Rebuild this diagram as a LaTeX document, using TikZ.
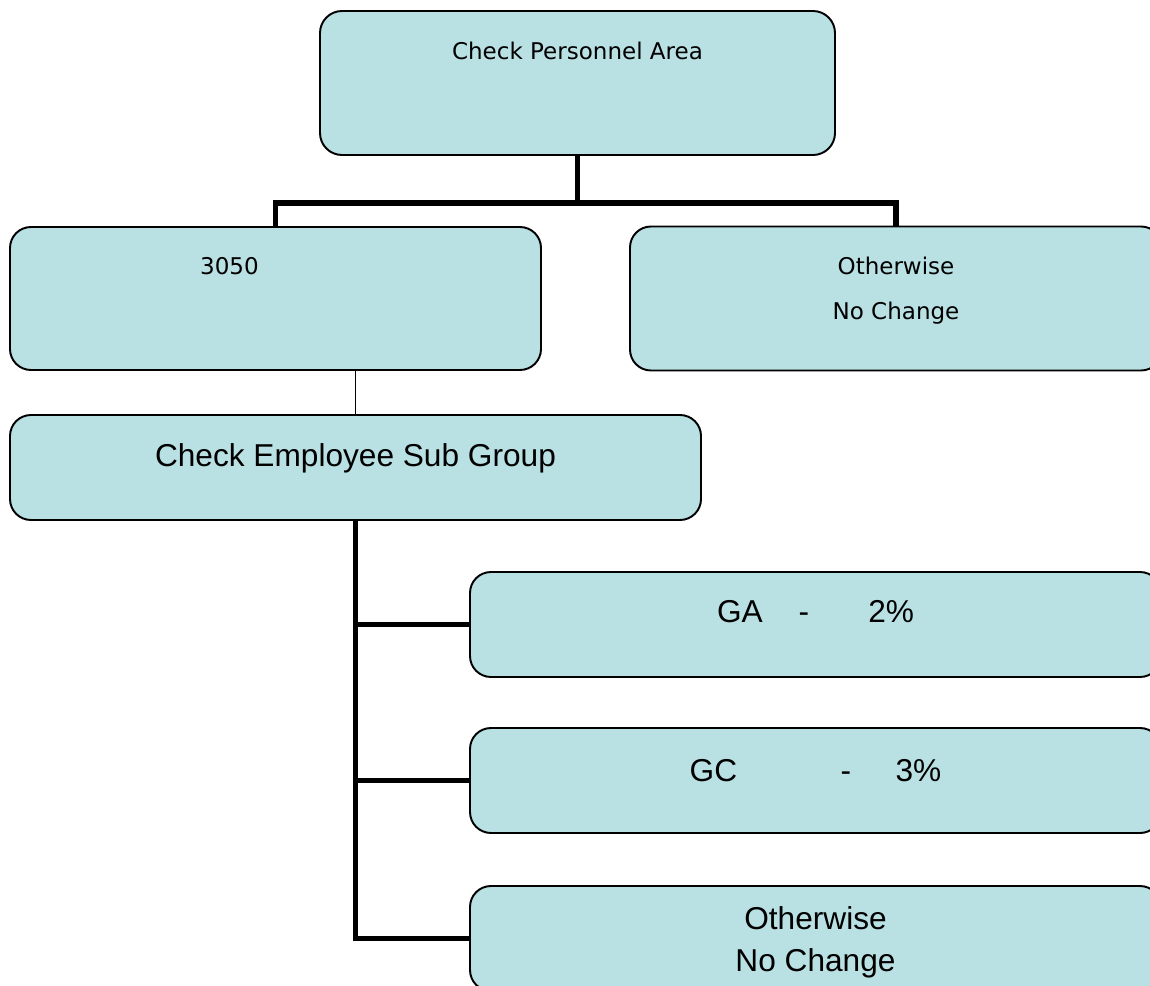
\documentclass[tikz,border=0pt]{standalone}
\usepackage{fontspec}
\usepackage{tikz}
\newfontfamily\vsans{DejaVu Sans}
\newfontfamily\asans{Liberation Sans}
\definecolor{boxfill}{RGB}{185,224,227}
\usetikzlibrary{positioning}

\begin{document}
\begin{tikzpicture}[node distance=3cm,on grid,
    box/.style={draw=black, line width=1.1pt, fill=boxfill, rounded corners=0.42cm,
                inner sep=0pt, minimum width=13.82cm, minimum height=2.1cm},
    small/.style={font=\vsans\fontsize{13.1}{16}\selectfont, anchor=base, inner sep=0pt},
    big/.style={font=\asans\fontsize{18}{22}\selectfont, anchor=base, inner sep=0pt},
    trunk/.style={line width=3.4pt, line join=miter},
    twig/.style={line width=0.6pt}]
    \useasboundingbox (0,0) rectangle (23,-19.72);
    \clip (0,0) rectangle (23,-19.72);

    \node[box, minimum width=10.3cm, minimum height=2.88cm, rounded corners=0.44cm,
          label={[small, yshift=-0.98cm]north:Check Personnel Area}] (top) at (11.55,-1.66) {};
    \node[box, minimum width=10.62cm, minimum height=2.86cm,
          label={[small, xshift=-0.92cm, yshift=-0.97cm]north:3050}] (pa) [below left=4.31cm and 6.04cm of top] {};
    \node[box, minimum width=10.64cm, minimum height=2.88cm,
          label={[small, yshift=-0.98cm]north:Otherwise},
          label={[small, yshift=-1.88cm]north:No Change}] (other) [below right=4.31cm and 6.37cm of top] {};
    \node[box, label={[big, yshift=-1.04cm]north:Check Employee Sub Group}] (esg) [below right=3.38cm and 1.6cm of pa] {};
    \node[box, label={[big, yshift=-1.02cm]north:GA\hspace{0.72cm}-\hspace{1.18cm}2\%}] (ga) [below right=3.14cm and 9.2cm of esg] {};
    \node[box, label={[big, yshift=-1.08cm]north:GC\hspace{2.07cm}-\hspace{0.89cm}3\%}] (gc) [below=3.12cm of ga] {};
    \node[box, label={[big, yshift=-0.88cm]north:Otherwise},
          label={[big, yshift=-1.72cm]north:No Change}] (nc) [below=3.16cm of gc] {};

    % first level
    \draw[trunk] (top.south) -- ++(0,-0.95) coordinate (bar);
    \draw[trunk] (pa.north) |- (bar) -| (other.north);
    \draw[twig] (esg.north) -- (esg.north |- pa.south);
    % sub groups
    \draw[trunk] (esg.south) |- (nc.west);
    \draw[trunk] (esg.south |- ga.west) -- (ga.west);
    \draw[trunk] (esg.south |- gc.west) -- (gc.west);
\end{tikzpicture}
\end{document}
